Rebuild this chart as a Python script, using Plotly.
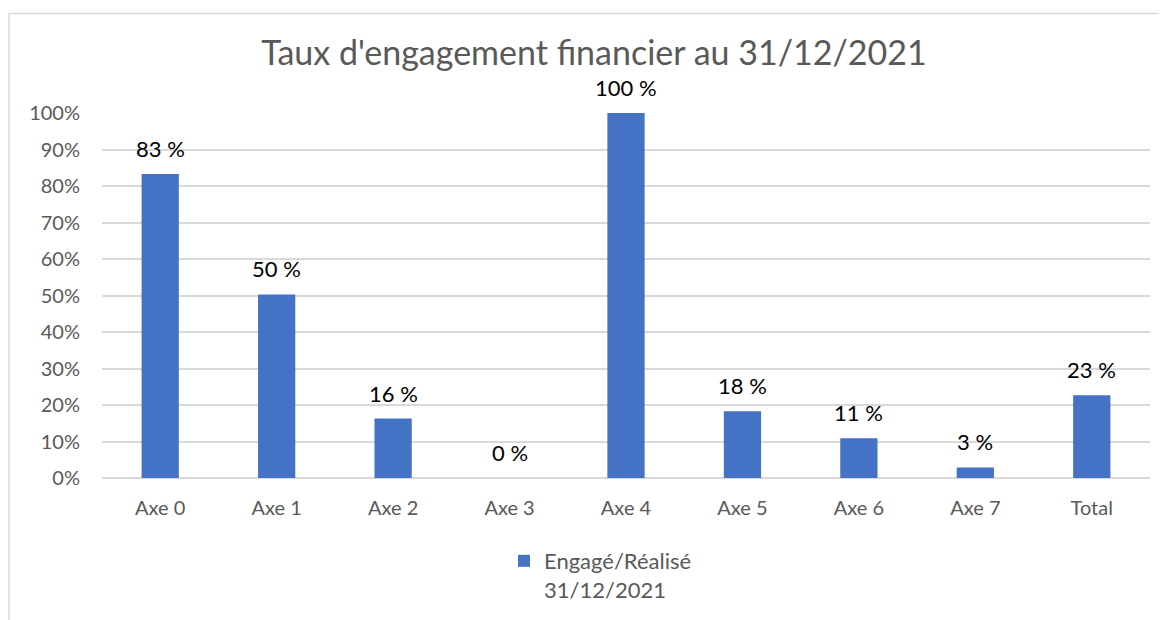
import plotly.graph_objects as go

categories = ["Axe 0", "Axe 1", "Axe 2", "Axe 3", "Axe 4", "Axe 5", "Axe 6", "Axe 7", "Total"]
values = [0.833, 0.503, 0.163, 0.0, 1.0, 0.183, 0.109, 0.029, 0.227]
labels = ["83 %", "50 %", "16 %", "0 %", "100 %", "18 %", "11 %", "3 %", "23 %"]
series_name = "Engagé/Réalisé<br>31/12/2021"
tick_vals = [0, 0.1, 0.2, 0.3, 0.4, 0.5, 0.6, 0.7, 0.8, 0.9, 1.0]
tick_text = ["0%", "10%", "20%", "30%", "40%", "50%", "60%", "70%", "80%", "90%", "100%"]

# page has an 8px body margin; figure coordinates = page coordinates - 8
W, H = 1159, 612
L, R, T, B = 94, 17, 105, 142
pw, ph = W - L - R, H - T - B

FONT = "Lato"
GRAY = "#595959"

fig = go.Figure()
fig.add_trace(go.Bar(
    x=categories, y=values, name=series_name,
    marker=dict(color="#4472c4", line=dict(width=0)),
    width=0.32,
    showlegend=True,
))

for c, v, t in zip(categories, values, labels):
    fig.add_annotation(x=c, y=v, text=t, showarrow=False, yanchor="bottom",
                       yshift=10, font=dict(family=FONT, size=22, color="#000000"))

# outer chart border (left and top edges visible)
fig.add_shape(type="rect", xref="paper", yref="paper",
              x0=(1 - L) / pw, x1=(1200 - L) / pw,
              y0=(T + ph - 700) / ph, y1=(T + ph - 5.5) / ph,
              line=dict(color="#d9d9d9", width=1.5), layer="below")

fig.update_layout(
    width=W, height=H,
    margin=dict(l=L, r=R, t=T, b=B, autoexpand=False),
    paper_bgcolor="white", plot_bgcolor="white",
    title=dict(text="Taux d'engagement financier au 31/12/2021",
               x=586 / W, xanchor="center", y=1 - 45 / H, yanchor="middle",
               font=dict(family=FONT, size=34, color=GRAY)),
    xaxis=dict(tickfont=dict(family=FONT, size=20, color=GRAY),
               showgrid=False, showline=False, ticks="", ticklabelstandoff=16),
    yaxis=dict(range=[0, 1], tickvals=tick_vals, ticktext=tick_text,
               tickfont=dict(family=FONT, size=20, color=GRAY),
               showgrid=True, gridcolor="#d9d9d9", gridwidth=1.5,
               zeroline=True, zerolinecolor="#d9d9d9", zerolinewidth=1.5,
               ticks="", ticklabelstandoff=21),
    showlegend=True,
    legend=dict(orientation="h", x=(496 - L) / pw, xanchor="left",
                y=(T + ph - 532) / ph, yanchor="top", valign="top",
                font=dict(family=FONT, size=22, color=GRAY),
                itemsizing="constant", itemwidth=30),
    bargap=0.68,
)

fig.write_html("out.html")
